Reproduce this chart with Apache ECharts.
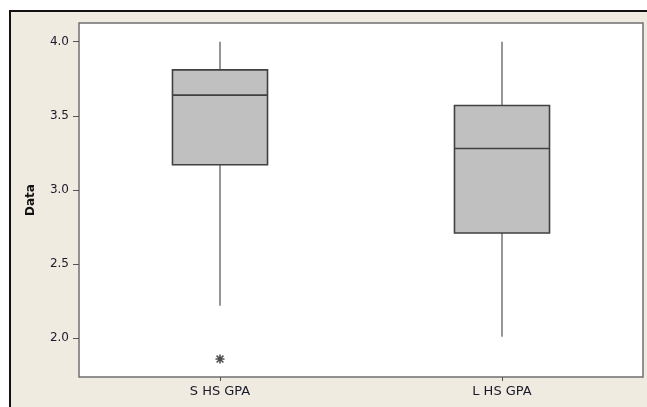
<!DOCTYPE html>
<html>
<head>
<meta charset="utf-8">
<script src="https://cdn.jsdelivr.net/npm/echarts@6/dist/echarts.min.js"></script>
<style>
  html, body { margin: 0; padding: 0; background: #ffffff; }
  #chart { width: 647px; height: 407px; }
</style>
</head>
<body>
<div id="chart"></div>
<script>
// Five-number summaries for the two GPA groups
const categories = ['S HS GPA', 'L HS GPA'];
const lowWhisker = [2.22, 2.01];
const q1 = [3.17, 2.71];
const medians = [3.64, 3.28];
const q3 = [3.81, 3.57];
const highWhisker = [4.0, 4.0];
// Outliers as [category index, value]
const outliers = [[0, 1.86]];
// Y axis tick values
const yTicks = [2.0, 2.5, 3.0, 3.5, 4.0];

const boxData = categories.map((c, i) => [i, lowWhisker[i], q1[i], medians[i], q3[i], highWhisker[i]]);

const chart = echarts.init(document.getElementById('chart'));

// Asterisk glyph for outlier points
const asterisk = 'path://M4.1,0 L5.9,0 L5.9,10 L4.1,10 Z M0,4.1 L10,4.1 L10,5.9 L0,5.9 Z ' +
  'M0.6,1.8 L1.8,0.6 L9.4,8.2 L8.2,9.4 Z M8.2,0.6 L9.4,1.8 L1.8,9.4 L0.6,8.2 Z';

function renderBox(params, api) {
  const x = api.value(0);
  const pMin = api.coord([x, api.value(1)]);
  const pQ1 = api.coord([x, api.value(2)]);
  const pMed = api.coord([x, api.value(3)]);
  const pQ3 = api.coord([x, api.value(4)]);
  const pMax = api.coord([x, api.value(5)]);
  const halfW = api.size([1, 0])[0] * 0.337 / 2;
  const cx = pMed[0];
  const whisker = { stroke: '#505050', lineWidth: 1.2 };
  return {
    type: 'group',
    children: [
      { type: 'line', shape: { x1: cx, y1: pMax[1], x2: cx, y2: pQ3[1] }, style: whisker },
      { type: 'line', shape: { x1: cx, y1: pQ1[1], x2: cx, y2: pMin[1] }, style: whisker },
      {
        type: 'rect',
        shape: { x: cx - halfW, y: pQ3[1], width: halfW * 2, height: pQ1[1] - pQ3[1] },
        style: { fill: '#C0C0C0', stroke: '#404040', lineWidth: 1.6 }
      },
      {
        type: 'line',
        shape: { x1: cx - halfW, y1: pMed[1], x2: cx + halfW, y2: pMed[1] },
        style: { stroke: '#404040', lineWidth: 1.6 }
      }
    ]
  };
}

chart.setOption({
  animation: false,
  backgroundColor: '#ffffff',
  graphic: [{
    type: 'rect',
    z: -10,
    shape: { x: 10, y: 11, width: 700, height: 500 },
    style: { fill: '#EFEBE1', stroke: '#111111', lineWidth: 2 }
  }],
  grid: {
    left: 79, top: 23, right: 4, bottom: 30,
    show: true,
    backgroundColor: '#ffffff',
    borderColor: '#707070',
    borderWidth: 1.5
  },
  xAxis: {
    type: 'category',
    data: categories,
    boundaryGap: true,
    axisLine: { show: false },
    axisTick: { show: true, alignWithLabel: true, length: 4, lineStyle: { color: '#555555' } },
    axisLabel: { margin: 8, fontFamily: 'DejaVu Sans', fontSize: 13, color: '#1a1a2a' },
    splitLine: { show: false }
  },
  yAxis: {
    type: 'value',
    min: 1.739,
    max: 4.126,
    name: 'Data',
    nameLocation: 'middle',
    nameRotate: 90,
    nameGap: 42,
    nameTextStyle: { fontFamily: 'DejaVu Sans', fontSize: 12, fontWeight: 'bold', color: '#111111' },
    axisLine: { show: false },
    axisTick: { show: true, length: 6, customValues: yTicks, lineStyle: { color: '#555555' } },
    axisLabel: {
      margin: 10,
      customValues: yTicks,
      formatter: v => v.toFixed(1),
      fontFamily: 'DejaVu Sans', fontSize: 12, color: '#1a1a2a'
    },
    splitLine: { show: false }
  },
  series: [
    {
      type: 'custom',
      renderItem: renderBox,
      encode: { x: 0, y: [1, 2, 3, 4, 5] },
      data: boxData
    },
    {
      type: 'scatter',
      data: outliers,
      symbol: asterisk,
      symbolSize: 9,
      itemStyle: { color: '#222222' }
    }
  ]
});
</script>
</body>
</html>
